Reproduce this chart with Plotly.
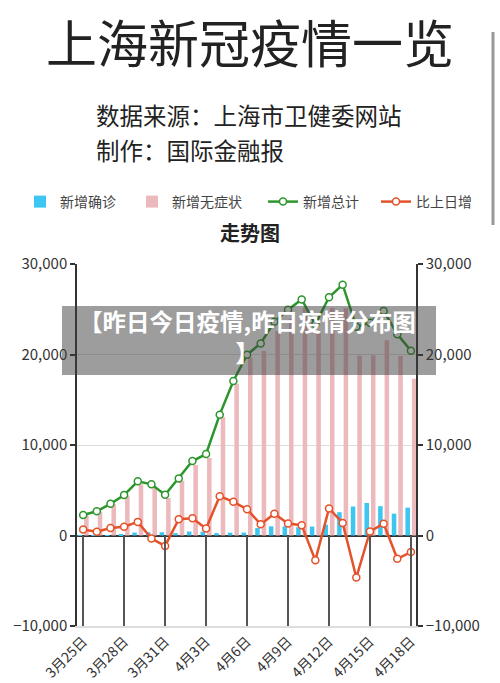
import plotly.graph_objects as go

dates = ["3月25日", "3月26日", "3月27日", "3月28日", "3月29日", "3月30日", "3月31日",
         "4月1日", "4月2日", "4月3日", "4月4日", "4月5日", "4月6日", "4月7日",
         "4月8日", "4月9日", "4月10日", "4月11日", "4月12日", "4月13日", "4月14日",
         "4月15日", "4月16日", "4月17日", "4月18日"]
confirmed = [38, 45, 50, 96, 326, 355, 358, 260, 438, 425, 268, 311, 322, 824,
             1015, 1006, 914, 994, 1189, 2573, 3200, 3590, 3238, 2417, 3084]
asymptomatic = [2231, 2631, 3450, 4381, 5656, 5298, 4144, 6051, 7788, 8581, 13086,
                16766, 19660, 20398, 22609, 23937, 25173, 22348, 25141, 25146,
                19872, 19923, 21582, 19831, 17332]
total = [2269, 2676, 3500, 4477, 5982, 5653, 4502, 6311, 8226, 9006, 13354, 17077,
         19982, 21222, 23624, 24943, 26087, 23342, 26330, 27719, 23072, 23513,
         24820, 22248, 20416]
change = [660, 407, 824, 977, 1505, -329, -1151, 1809, 1915, 780, 4348, 3723, 2905,
          1240, 2402, 1319, 1144, -2745, 2988, 1389, -4647, 441, 1307, -2572, -1832]
tick_dates = ["3月25日", "3月28日", "3月31日", "4月3日", "4月6日", "4月9日",
              "4月12日", "4月15日", "4月18日"]
y_ticks = [-10000, 0, 10000, 20000, 30000]

W, H = 500, 683
# plot area in window pixels
L, R, T, B = 77, 416, 264, 626
FONT = "Noto Sans CJK SC"


def px(x):
    return (x - L) / (R - L)


def py(y):
    return (B - y) / (B - T)


def cx(x):
    return x / W


def cy(y):
    return 1 - y / H


fig = go.Figure()
fig.add_trace(go.Bar(x=dates, y=confirmed, name="新增确诊", legend="legend",
                     marker=dict(color="#3ec6f2", line=dict(width=0))))
fig.add_trace(go.Bar(x=dates, y=asymptomatic, name="新增无症状", legend="legend",
                     marker=dict(color="#ecb9bc", line=dict(width=0))))
fig.add_trace(go.Scatter(x=dates, y=total, name="新增总计", mode="lines+markers",
                         yaxis="y2", legend="legend2",
                         line=dict(color="#2c962c", width=2.5),
                         marker=dict(size=7, color="white",
                                     line=dict(color="#2c962c", width=1.5))))
fig.add_trace(go.Scatter(x=dates, y=change, name="比上日增", mode="lines+markers",
                         yaxis="y2", legend="legend2",
                         line=dict(color="#e5522a", width=2.5),
                         marker=dict(size=7, color="white",
                                     line=dict(color="#e5522a", width=1.5))))

yax = dict(range=[-10000, 30000], tickvals=y_ticks, tickformat=",",
           showgrid=True, gridcolor="#dddddd", gridwidth=1,
           zeroline=True, zerolinecolor="#333333", zerolinewidth=1.5,
           showline=True, linecolor="#333333", linewidth=1.5,
           ticks="outside", ticklen=5, tickcolor="#333333", tickwidth=1.5,
           automargin=False,
           tickfont=dict(size=15, color="#333333", family=FONT), fixedrange=True)

leg = dict(orientation="h", xref="container", yref="container",
           y=cy(202), xanchor="left", yanchor="middle",
           font=dict(size=14, color="#444444", family=FONT),
           itemwidth=30, entrywidthmode="pixels",
           traceorder="normal", bgcolor="rgba(0,0,0,0)")

fig.update_layout(
    width=W, height=H,
    margin=dict(l=L, r=W - R, t=T, b=H - B, autoexpand=False),
    paper_bgcolor="white", plot_bgcolor="white",
    font=dict(family=FONT, color="#333333"),
    barmode="group", bargap=0.05, bargroupgap=0.3,
    showlegend=True,
    legend=dict(leg, x=cx(20), entrywidth=67),
    legend2=dict(leg, x=cx(263), entrywidth=68),
    xaxis=dict(type="category", range=[-0.45, 24.37],
               tickmode="array", tickvals=tick_dates, ticktext=tick_dates,
               tickangle=-45, ticks="inside", ticklen=(B - T) / 4,
               tickcolor="#555555", tickwidth=1.5,
               showline=True, linecolor="#dddddd", linewidth=1.5,
               showgrid=False, automargin=False,
               tickfont=dict(size=14, color="#333333", family=FONT)),
    yaxis=yax,
    yaxis2=dict(yax, overlaying="y", side="right", showgrid=False),
)

annotations = [
    dict(text="上海新冠疫情一览", x=px(250), y=py(41), xanchor="center", yanchor="middle",
         font=dict(size=51, color="#222222", family=FONT)),
    dict(text="数据来源：上海市卫健委网站", x=px(94), y=py(115), xanchor="left",
         yanchor="middle", font=dict(size=23.5, color="#222222", family=FONT)),
    dict(text="制作：国际金融报", x=px(94), y=py(150), xanchor="left",
         yanchor="middle", font=dict(size=23.5, color="#222222", family=FONT)),
    dict(text="<b>走势图</b>", x=px(250), y=py(232), xanchor="center", yanchor="middle",
         font=dict(size=20, color="#222222", family=FONT)),
    dict(text="<b>【昨日今日疫情,昨日疫情分布图<br>】</b>", x=px(247), y=py(336),
         xanchor="center", yanchor="middle", align="center",
         font=dict(size=23.5, color="white", family=FONT)),
]
for a in annotations:
    a.update(xref="paper", yref="paper", showarrow=False)
fig.update_layout(annotations=annotations)

fig.add_shape(type="rect", xref="paper", yref="paper",
              x0=px(62), x1=px(436), y0=py(375), y1=py(306),
              fillcolor="rgba(60,60,60,0.5)", line=dict(width=0), layer="above")
fig.add_shape(type="line", xref="paper", yref="paper",
              x0=px(493), x1=px(493), y0=py(32), y1=py(225),
              line=dict(color="#999999", width=3))

# remove the browser's default 8px body margin so the figure fills the window
fig.write_html("out.html", config={"displayModeBar": False},
               post_script="document.body.style.margin='0';")
